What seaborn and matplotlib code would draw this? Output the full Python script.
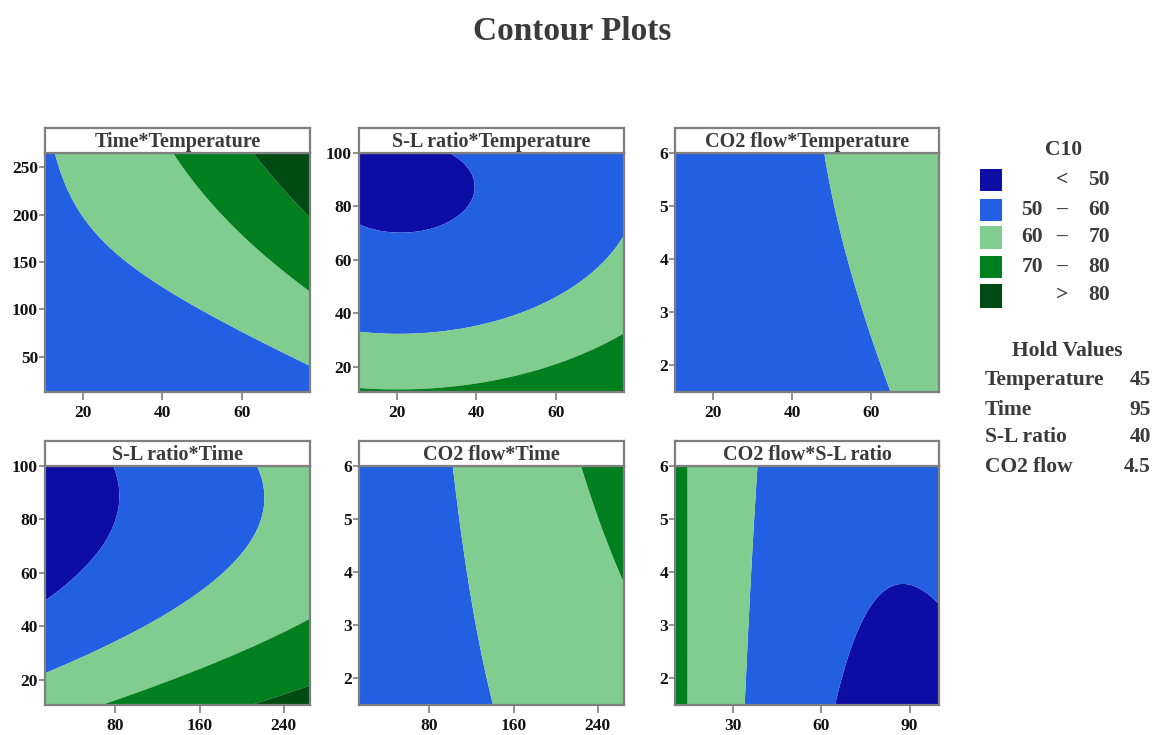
import numpy as np
import matplotlib
matplotlib.use("Agg")
import matplotlib.pyplot as plt
from matplotlib.patches import Rectangle
import seaborn as sns

# ---------------- data ----------------
# axis ranges of the factors
temp_range = [10.4, 77.2]
time_range = [13.0, 265.0]
sl_range = [10.5, 100.0]
co2_range = [1.5, 6.0]

# contour boundary points (x, y, response level)
# Panel 1: Time (y) * Temperature (x)
p1_x = [12.7, 15.6, 20.3, 27.4, 38.4, 49.4, 57.8, 71.3, 76.8,
        43.0, 48.9, 57.8, 66.3, 76.8,
        63.3, 69.6, 76.8]
p1_y = [264, 227, 196, 168, 128, 100, 79, 53, 42,
        264, 229, 187, 156, 120,
        264, 229, 199]
p1_z = [60] * 9 + [70] * 5 + [80] * 3

# Panel 2: S-L ratio (y) * Temperature (x)
p2_x = [34.4, 38.6, 37.3, 32.3, 23.8, 18.7, 10.1,
        10.1, 28.9, 44.1, 59.2, 69.4, 77.0,
        10.1, 32.3, 47.4, 60.9, 77.0]
p2_y = [100, 90, 80, 73.7, 70.2, 70.2, 73.5,
        33.5, 32.9, 36.5, 45, 55, 70,
        11.9, 11.9, 16.2, 21.9, 31.9]
p2_z = [50] * 7 + [60] * 6 + [70] * 5

# Panel 3: CO2 flow (y) * Temperature (x)
p3_x = [47.5, 49.2, 53.4, 58.1, 62.3, 65.6, 10.4, 10.4, 77.0, 77.0]
p3_y = [6.0, 5.38, 4.0, 3.0, 2.26, 1.58, 6.0, 1.5, 6.0, 1.5]
p3_z = [60] * 6 + [57, 55, 66, 63]

# Panel 4: S-L ratio (y) * Time (x)
p4_x = [75.9, 83.2, 77.4, 53.4, 32.6, 11.8,
        215, 221.5, 215, 189.5, 147.9, 96.6, 48.6, 11.8,
        66.3, 103, 160.7, 224.7, 264.7,
        208.7, 237.5, 264.7]
p4_y = [100, 87.2, 77.2, 60.9, 54.7, 48.7,
        100, 87.2, 75.9, 62.2, 49.7, 39.7, 29.7, 22.2,
        10.4, 14.8, 23.5, 34.7, 42.8,
        10.4, 14.0, 18.2]
p4_z = [50] * 6 + [60] * 8 + [70] * 5 + [80] * 3

# Panel 5: CO2 flow (y) * Time (x)
p5_x = [102.1, 110.0, 116.4, 125.9, 140.1, 224.0, 236.8, 262.0, 13.0]
p5_y = [6.0, 4.8, 3.87, 2.81, 1.54, 6.0, 5.24, 3.93, 4.5]
p5_z = [60] * 5 + [70] * 3 + [53]

# Panel 6: CO2 flow (y) * S-L ratio (x)
p6_x = [14.7, 14.7, 14.7, 14.7,
        38.4, 37.5, 36.4, 35.2, 34.1,
        65.2, 68.3, 73.9, 80.6, 87.4, 93.0, 99.5]
p6_y = [6.0, 4.5, 3.0, 1.5,
        6.0, 5.05, 4.05, 2.62, 1.54,
        1.54, 2.31, 3.12, 3.62, 3.77, 3.68, 3.43]
p6_z = [70] * 4 + [60] * 5 + [50] * 7

panel_titles = ["Time*Temperature", "S-L ratio*Temperature", "CO2 flow*Temperature",
                "S-L ratio*Time", "CO2 flow*Time", "CO2 flow*S-L ratio"]
contour_levels = [50, 60, 70, 80]
legend_labels = [("", "<", "50"), ("50", "\u2013", "60"), ("60", "\u2013", "70"),
                 ("70", "\u2013", "80"), ("", ">", "80")]
hold_names = ["Temperature", "Time", "S-L ratio", "CO2 flow"]
hold_values = ["45", "95", "40", "4.5"]

# ---------------- styling ----------------
sns.set_theme(style="white")
FONT = ["Liberation Serif", "DejaVu Serif"]
plt.rcParams["font.family"] = FONT
plt.rcParams["font.weight"] = "bold"

fill_colors = sns.color_palette(["#0d0ca6", "#235fe2", "#81cd8f", "#007f1f", "#004a13"])
frame_col = "#7f7f7f"
text_col = "#3a3a3a"
LEG_FS = 15.5

W, H = 1154, 735
fig = plt.figure(figsize=(W / 100, H / 100), dpi=100)
fig.patch.set_facecolor("white")


def fx(px):
    return px / W


def fy(py):
    return 1 - py / H


def fit_surface(x, y, z, xr, yr, n=240):
    x = np.asarray(x, float); y = np.asarray(y, float); z = np.asarray(z, float)
    u = (x - xr[0]) / (xr[1] - xr[0]); v = (y - yr[0]) / (yr[1] - yr[0])
    A = np.column_stack([np.ones_like(u), u, v, u * u, v * v, u * v])
    coef, *_ = np.linalg.lstsq(A, z, rcond=None)
    gx = np.linspace(xr[0], xr[1], n); gy = np.linspace(yr[0], yr[1], n)
    X, Y = np.meshgrid(gx, gy)
    U = (X - xr[0]) / (xr[1] - xr[0]); V = (Y - yr[0]) / (yr[1] - yr[0])
    Z = coef[0] + coef[1] * U + coef[2] * V + coef[3] * U * U + coef[4] * V * V + coef[5] * U * V
    return X, Y, Z


panels = [
    (p1_x, p1_y, p1_z, temp_range, time_range, [20, 40, 60], [50, 100, 150, 200, 250]),
    (p2_x, p2_y, p2_z, temp_range, sl_range, [20, 40, 60], [20, 40, 60, 80, 100]),
    (p3_x, p3_y, p3_z, temp_range, co2_range, [20, 40, 60], [2, 3, 4, 5, 6]),
    (p4_x, p4_y, p4_z, time_range, sl_range, [80, 160, 240], [20, 40, 60, 80, 100]),
    (p5_x, p5_y, p5_z, time_range, co2_range, [80, 160, 240], [2, 3, 4, 5, 6]),
    (p6_x, p6_y, p6_z, sl_range, co2_range, [30, 60, 90], [2, 3, 4, 5, 6]),
]

col_x = [(45, 310), (359, 624), (675, 939)]
row_y = [(153, 392), (466, 705)]
title_h = 25

for i, (px_, py_, pz_, xr, yr, xt, yt) in enumerate(panels):
    c0, c1 = col_x[i % 3]
    r0, r1 = row_y[i // 3]
    ax = fig.add_axes([fx(c0), fy(r1), fx(c1 - c0), (r1 - r0) / H])
    X, Y, Z = fit_surface(px_, py_, pz_, xr, yr)
    ax.contourf(X, Y, Z, levels=[-1e9] + contour_levels + [1e9], colors=fill_colors, antialiased=True)
    ax.set_xlim(xr); ax.set_ylim(yr)
    ax.set_xticks(xt); ax.set_yticks(yt)
    ax.set_xticklabels([str(t) for t in xt]); ax.set_yticklabels([str(t) for t in yt])
    ax.tick_params(axis="x", direction="out", length=5.5, width=1.2, color=frame_col,
                   labelsize=12.5, labelcolor="#111111", pad=4, bottom=True)
    ax.tick_params(axis="y", direction="out", length=4, width=1.2, color=frame_col,
                   labelsize=12.5, labelcolor="#111111", pad=1, left=True)
    for lab in ax.get_xticklabels() + ax.get_yticklabels():
        lab.set_fontweight("bold"); lab.set_family(FONT)
    for s in ax.spines.values():
        s.set_color(frame_col); s.set_linewidth(1.6); s.set_visible(True)
    ax.grid(False)
    # title box
    tax = fig.add_axes([fx(c0), fy(r0), fx(c1 - c0), title_h / H])
    tax.set_xticks([]); tax.set_yticks([])
    tax.set_facecolor("white")
    for s in tax.spines.values():
        s.set_color(frame_col); s.set_linewidth(1.6); s.set_visible(True)
    tax.text(0.5, 0.45, panel_titles[i], ha="center", va="center", fontsize=14.5,
             fontweight="bold", color=text_col, family=FONT, transform=tax.transAxes)

# main title
fig.text(fx(572), fy(31), "Contour Plots", ha="center", va="center", fontsize=24,
         fontweight="bold", color=text_col, family=FONT)

# legend
fig.text(fx(1064), fy(150), "C10", ha="center", va="center", fontsize=LEG_FS,
         fontweight="bold", color=text_col, family=FONT)
sw_y = [(169, 191), (199, 221), (226, 249), (256, 278), (284, 308)]
txt_y = [180, 210, 237, 267, 295]
for k, ((a, op, b), (y0, y1)) in enumerate(zip(legend_labels, sw_y)):
    fig.add_artist(Rectangle((fx(980), fy(y1)), fx(22), (y1 - y0) / H,
                             transform=fig.transFigure, facecolor=fill_colors[k], edgecolor="none"))
    ty = fy(txt_y[k])
    if a:
        fig.text(fx(1043), ty, a, ha="right", va="center", fontsize=LEG_FS, fontweight="bold",
                 color=text_col, family=FONT)
    fig.text(fx(1062), ty, op, ha="center", va="center", fontsize=LEG_FS, fontweight="bold",
             color=text_col, family=FONT)
    fig.text(fx(1110), ty, b, ha="right", va="center", fontsize=LEG_FS, fontweight="bold",
             color=text_col, family=FONT)

fig.text(fx(1067), fy(351), "Hold Values", ha="center", va="center", fontsize=LEG_FS,
         fontweight="bold", color=text_col, family=FONT)
for k, (nm, vl) in enumerate(zip(hold_names, hold_values)):
    yy = fy([380, 410, 437, 467][k])
    fig.text(fx(985), yy, nm, ha="left", va="center", fontsize=LEG_FS, fontweight="bold",
             color=text_col, family=FONT)
    fig.text(fx(1151), yy, vl, ha="right", va="center", fontsize=LEG_FS, fontweight="bold",
             color=text_col, family=FONT)

fig.savefig("out.png", dpi=100, facecolor="white")
